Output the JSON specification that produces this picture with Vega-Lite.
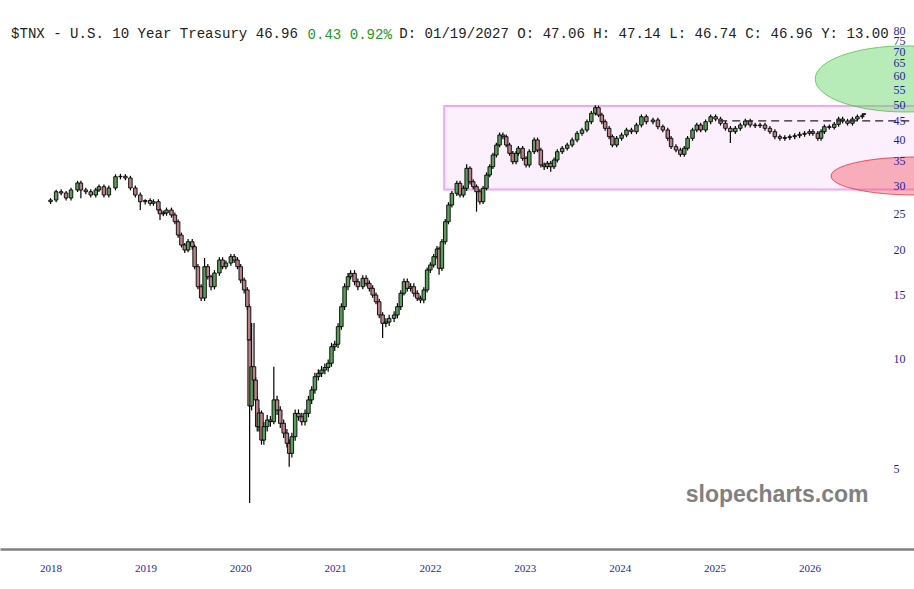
{
  "$schema": "https://vega.github.io/schema/vega-lite/v6.json",
  "width": 914,
  "height": 549,
  "autosize": {"type": "none"},
  "padding": {"top": 0, "left": 0, "right": 0, "bottom": 40},
  "background": "white",
  "title": {
    "text": "$TNX - U.S. 10 Year Treasury 46.96\u00a0\u00a0\u00a0\u00a0\u00a0\u00a0\u00a0\u00a0\u00a0\u00a0\u00a0\u00a0D: 01/19/2027 O: 47.06 H: 47.14 L: 46.74 C: 46.96 Y: 13.00",
    "anchor": "start",
    "frame": "group",
    "offset": -52,
    "dx": 11,
    "font": "Liberation Mono",
    "fontSize": 14.07,
    "fontWeight": "normal",
    "color": "#222222",
    "baseline": "alphabetic"
  },
  "datasets": {
    "bars": [
      {"t":2018.000,"o":27.00,"h":27.6,"l":26.6,"c":27.28},
      {"t":2018.059,"o":27.28,"h":29.1,"l":26.9,"c":28.75},
      {"t":2018.112,"o":28.75,"h":29.2,"l":28.1,"c":28.52},
      {"t":2018.164,"o":28.52,"h":28.9,"l":27.2,"c":27.63},
      {"t":2018.216,"o":27.63,"h":29.5,"l":27.2,"c":29.07},
      {"t":2018.285,"o":29.07,"h":30.8,"l":28.7,"c":30.38},
      {"t":2018.320,"o":30.38,"h":30.8,"l":27.6,"c":29.07},
      {"t":2018.372,"o":29.07,"h":29.5,"l":28.3,"c":28.75},
      {"t":2018.424,"o":28.75,"h":29.2,"l":27.7,"c":28.16},
      {"t":2018.477,"o":28.16,"h":29.5,"l":27.7,"c":29.07},
      {"t":2018.511,"o":29.07,"h":30.1,"l":28.7,"c":29.68},
      {"t":2018.563,"o":29.68,"h":30.1,"l":27.7,"c":28.16},
      {"t":2018.615,"o":28.16,"h":29.9,"l":27.7,"c":29.44},
      {"t":2018.685,"o":29.44,"h":32.1,"l":29.0,"c":31.62},
      {"t":2018.737,"o":31.62,"h":32.2,"l":31.1,"c":31.70},
      {"t":2018.789,"o":31.70,"h":32.1,"l":30.9,"c":31.36},
      {"t":2018.842,"o":31.36,"h":31.8,"l":29.0,"c":29.44},
      {"t":2018.894,"o":29.44,"h":29.9,"l":27.7,"c":28.16},
      {"t":2018.946,"o":28.16,"h":28.6,"l":25.6,"c":26.99},
      {"t":2018.998,"o":26.99,"h":27.4,"l":26.5,"c":27.20},
      {"t":2019.050,"o":27.20,"h":27.6,"l":26.3,"c":26.72},
      {"t":2019.085,"o":26.72,"h":27.4,"l":26.3,"c":26.99},
      {"t":2019.137,"o":26.99,"h":27.4,"l":25.2,"c":25.61},
      {"t":2019.154,"o":25.61,"h":25.9,"l":24.04,"c":25.00},
      {"t":2019.189,"o":25.00,"h":25.5,"l":24.6,"c":25.13},
      {"t":2019.223,"o":25.13,"h":26.0,"l":24.7,"c":25.61},
      {"t":2019.275,"o":25.61,"h":26.0,"l":24.4,"c":24.81},
      {"t":2019.311,"o":24.81,"h":25.2,"l":23.4,"c":23.78},
      {"t":2019.345,"o":23.78,"h":24.1,"l":21.5,"c":21.86},
      {"t":2019.380,"o":21.86,"h":22.2,"l":20.2,"c":20.52},
      {"t":2019.415,"o":20.52,"h":20.8,"l":19.5,"c":19.88},
      {"t":2019.450,"o":19.88,"h":21.3,"l":19.6,"c":20.95},
      {"t":2019.494,"o":20.95,"h":21.3,"l":19.9,"c":20.30},
      {"t":2019.519,"o":20.30,"h":20.6,"l":17.6,"c":17.89},
      {"t":2019.554,"o":17.89,"h":18.2,"l":15.5,"c":15.76},
      {"t":2019.588,"o":15.76,"h":16.0,"l":14.4,"c":14.67},
      {"t":2019.624,"o":14.67,"h":18.9,"l":14.4,"c":17.89},
      {"t":2019.658,"o":17.89,"h":18.2,"l":16.5,"c":16.79},
      {"t":2019.692,"o":16.79,"h":17.0,"l":15.4,"c":15.76},
      {"t":2019.728,"o":15.76,"h":17.5,"l":15.5,"c":17.19},
      {"t":2019.780,"o":17.19,"h":19.0,"l":16.9,"c":18.66},
      {"t":2019.814,"o":18.66,"h":19.0,"l":17.6,"c":17.89},
      {"t":2019.849,"o":17.89,"h":18.6,"l":17.6,"c":18.31},
      {"t":2019.901,"o":18.31,"h":19.4,"l":18.0,"c":19.06},
      {"t":2019.936,"o":19.06,"h":19.4,"l":18.3,"c":18.66},
      {"t":2019.971,"o":18.66,"h":19.0,"l":17.6,"c":17.89},
      {"t":2020.005,"o":17.89,"h":18.2,"l":16.1,"c":16.44},
      {"t":2020.041,"o":16.44,"h":16.7,"l":15.1,"c":15.44},
      {"t":2020.075,"o":15.44,"h":15.7,"l":13.6,"c":13.89},
      {"t":2020.093,"o":13.89,"h":14.1,"l":11.0,"c":11.25},
      {"t":2020.099,"o":11.25,"h":11.4,"l":4.01,"c":7.41},
      {"t":2020.120,"o":7.41,"h":12.53,"l":7.2,"c":9.50},
      {"t":2020.145,"o":9.50,"h":12.53,"l":7.84,"c":8.73},
      {"t":2020.162,"o":8.73,"h":8.9,"l":7.5,"c":7.70},
      {"t":2020.179,"o":7.70,"h":7.9,"l":6.3,"c":6.50},
      {"t":2020.197,"o":6.50,"h":7.3,"l":6.3,"c":7.09},
      {"t":2020.224,"o":7.09,"h":7.2,"l":5.8,"c":5.97},
      {"t":2020.249,"o":5.97,"h":6.7,"l":5.8,"c":6.50},
      {"t":2020.284,"o":6.50,"h":7.0,"l":6.3,"c":6.78},
      {"t":2020.318,"o":6.78,"h":6.95,"l":6.5,"c":6.71},
      {"t":2020.354,"o":6.71,"h":9.50,"l":6.6,"c":7.70},
      {"t":2020.388,"o":7.70,"h":7.9,"l":7.0,"c":7.22},
      {"t":2020.422,"o":7.22,"h":7.4,"l":6.45,"c":6.64},
      {"t":2020.458,"o":6.64,"h":6.8,"l":6.05,"c":6.24},
      {"t":2020.492,"o":6.24,"h":6.4,"l":5.7,"c":5.85},
      {"t":2020.516,"o":5.85,"h":6.0,"l":5.04,"c":5.49},
      {"t":2020.544,"o":5.49,"h":6.25,"l":5.35,"c":6.10},
      {"t":2020.579,"o":6.10,"h":7.25,"l":5.95,"c":7.07},
      {"t":2020.614,"o":7.07,"h":7.25,"l":6.75,"c":6.92},
      {"t":2020.649,"o":6.92,"h":7.1,"l":6.55,"c":6.71},
      {"t":2020.683,"o":6.71,"h":7.25,"l":6.55,"c":7.07},
      {"t":2020.719,"o":7.07,"h":7.9,"l":6.9,"c":7.70},
      {"t":2020.753,"o":7.70,"h":8.4,"l":7.5,"c":8.20},
      {"t":2020.787,"o":8.20,"h":9.15,"l":8.0,"c":8.92},
      {"t":2020.823,"o":8.92,"h":9.35,"l":8.7,"c":9.11},
      {"t":2020.857,"o":9.11,"h":9.55,"l":8.9,"c":9.30},
      {"t":2020.892,"o":9.30,"h":9.7,"l":9.05,"c":9.45},
      {"t":2020.927,"o":9.45,"h":9.95,"l":9.2,"c":9.71},
      {"t":2020.962,"o":9.71,"h":11.05,"l":9.5,"c":10.78},
      {"t":2020.996,"o":10.78,"h":11.2,"l":10.5,"c":10.95},
      {"t":2021.031,"o":10.95,"h":12.5,"l":10.7,"c":12.24},
      {"t":2021.066,"o":12.24,"h":14.2,"l":12.0,"c":13.89},
      {"t":2021.100,"o":13.89,"h":16.1,"l":13.6,"c":15.76},
      {"t":2021.136,"o":15.76,"h":17.2,"l":15.4,"c":16.79},
      {"t":2021.163,"o":16.79,"h":17.5,"l":16.5,"c":17.15},
      {"t":2021.205,"o":17.15,"h":17.5,"l":15.9,"c":16.27},
      {"t":2021.240,"o":16.27,"h":16.6,"l":15.4,"c":15.76},
      {"t":2021.292,"o":15.76,"h":16.95,"l":15.5,"c":16.62},
      {"t":2021.327,"o":16.62,"h":16.95,"l":15.8,"c":16.10},
      {"t":2021.361,"o":16.10,"h":16.4,"l":15.3,"c":15.60},
      {"t":2021.396,"o":15.60,"h":15.9,"l":14.7,"c":14.95},
      {"t":2021.431,"o":14.95,"h":15.2,"l":14.1,"c":14.33},
      {"t":2021.465,"o":14.33,"h":14.6,"l":12.9,"c":13.18},
      {"t":2021.501,"o":13.18,"h":13.4,"l":11.39,"c":12.50},
      {"t":2021.535,"o":12.50,"h":12.9,"l":12.2,"c":12.60},
      {"t":2021.570,"o":12.60,"h":13.2,"l":12.3,"c":12.90},
      {"t":2021.622,"o":12.90,"h":13.5,"l":12.6,"c":13.18},
      {"t":2021.657,"o":13.18,"h":14.2,"l":12.9,"c":13.89},
      {"t":2021.692,"o":13.89,"h":15.4,"l":13.6,"c":15.12},
      {"t":2021.726,"o":15.12,"h":16.6,"l":14.9,"c":16.27},
      {"t":2021.761,"o":16.27,"h":16.6,"l":15.3,"c":15.60},
      {"t":2021.796,"o":15.60,"h":16.1,"l":15.3,"c":15.76},
      {"t":2021.830,"o":15.76,"h":16.1,"l":14.8,"c":15.12},
      {"t":2021.866,"o":15.12,"h":15.4,"l":14.4,"c":14.65},
      {"t":2021.900,"o":14.65,"h":14.9,"l":14.2,"c":14.49},
      {"t":2021.935,"o":14.49,"h":15.7,"l":14.2,"c":15.44},
      {"t":2021.970,"o":15.44,"h":17.8,"l":15.2,"c":17.52},
      {"t":2022.004,"o":17.52,"h":18.4,"l":17.2,"c":18.08},
      {"t":2022.039,"o":18.08,"h":19.4,"l":17.8,"c":19.06},
      {"t":2022.074,"o":19.06,"h":20.4,"l":18.8,"c":20.01},
      {"t":2022.096,"o":20.01,"h":20.3,"l":17.0,"c":17.71},
      {"t":2022.126,"o":17.71,"h":21.3,"l":17.4,"c":20.95},
      {"t":2022.161,"o":20.95,"h":24.2,"l":20.6,"c":23.78},
      {"t":2022.195,"o":23.78,"h":26.9,"l":23.4,"c":26.43},
      {"t":2022.231,"o":26.43,"h":28.9,"l":26.0,"c":28.46},
      {"t":2022.283,"o":28.46,"h":30.8,"l":28.0,"c":30.32},
      {"t":2022.317,"o":30.32,"h":30.8,"l":27.7,"c":28.16},
      {"t":2022.352,"o":28.16,"h":29.9,"l":27.7,"c":29.38},
      {"t":2022.387,"o":29.38,"h":34.2,"l":28.9,"c":33.35},
      {"t":2022.422,"o":33.35,"h":33.8,"l":30.1,"c":30.63},
      {"t":2022.456,"o":30.63,"h":31.1,"l":29.2,"c":29.68},
      {"t":2022.491,"o":29.68,"h":30.1,"l":25.34,"c":28.75},
      {"t":2022.526,"o":28.75,"h":29.2,"l":26.5,"c":26.99},
      {"t":2022.560,"o":26.99,"h":29.8,"l":26.6,"c":29.38},
      {"t":2022.596,"o":29.38,"h":32.5,"l":29.0,"c":31.96},
      {"t":2022.630,"o":31.96,"h":34.2,"l":31.5,"c":33.68},
      {"t":2022.664,"o":33.68,"h":36.8,"l":33.2,"c":36.27},
      {"t":2022.700,"o":36.27,"h":39.2,"l":35.7,"c":38.64},
      {"t":2022.734,"o":38.64,"h":41.8,"l":38.1,"c":41.17},
      {"t":2022.769,"o":41.17,"h":41.8,"l":40.1,"c":40.73},
      {"t":2022.804,"o":40.73,"h":41.3,"l":38.1,"c":38.64},
      {"t":2022.839,"o":38.64,"h":39.2,"l":36.1,"c":36.67},
      {"t":2022.873,"o":36.67,"h":37.2,"l":34.2,"c":34.77},
      {"t":2022.908,"o":34.77,"h":37.2,"l":34.2,"c":36.67},
      {"t":2022.932,"o":36.67,"h":38.4,"l":36.1,"c":37.85},
      {"t":2022.977,"o":37.85,"h":38.4,"l":35.0,"c":35.52},
      {"t":2023.013,"o":35.52,"h":36.0,"l":33.5,"c":34.05},
      {"t":2023.047,"o":34.05,"h":37.6,"l":33.5,"c":37.04},
      {"t":2023.099,"o":37.04,"h":40.5,"l":36.5,"c":39.89},
      {"t":2023.134,"o":39.89,"h":40.5,"l":36.9,"c":37.44},
      {"t":2023.169,"o":37.44,"h":38.0,"l":33.5,"c":34.05},
      {"t":2023.204,"o":34.05,"h":34.6,"l":33.0,"c":33.68},
      {"t":2023.238,"o":33.68,"h":34.9,"l":33.2,"c":34.42},
      {"t":2023.273,"o":34.42,"h":34.9,"l":32.6,"c":33.68},
      {"t":2023.308,"o":33.68,"h":35.7,"l":33.2,"c":35.14},
      {"t":2023.342,"o":35.14,"h":37.6,"l":34.6,"c":37.04},
      {"t":2023.394,"o":37.04,"h":38.4,"l":36.5,"c":37.85},
      {"t":2023.447,"o":37.85,"h":39.2,"l":37.3,"c":38.64},
      {"t":2023.499,"o":38.64,"h":40.5,"l":38.1,"c":39.89},
      {"t":2023.551,"o":39.89,"h":42.2,"l":39.3,"c":41.61},
      {"t":2023.603,"o":41.61,"h":43.1,"l":41.0,"c":42.49},
      {"t":2023.655,"o":42.49,"h":45.4,"l":41.9,"c":44.78},
      {"t":2023.701,"o":44.78,"h":47.9,"l":44.1,"c":47.23},
      {"t":2023.743,"o":47.23,"h":49.7,"l":46.6,"c":48.93},
      {"t":2023.777,"o":48.93,"h":49.6,"l":46.1,"c":46.72},
      {"t":2023.812,"o":46.72,"h":47.4,"l":44.1,"c":44.78},
      {"t":2023.847,"o":44.78,"h":45.4,"l":42.3,"c":42.95},
      {"t":2023.889,"o":42.95,"h":43.6,"l":40.1,"c":40.73},
      {"t":2023.923,"o":40.73,"h":41.3,"l":38.1,"c":38.64},
      {"t":2023.968,"o":38.64,"h":40.9,"l":38.1,"c":40.32},
      {"t":2024.020,"o":40.32,"h":41.8,"l":39.7,"c":41.17},
      {"t":2024.072,"o":41.17,"h":43.1,"l":40.6,"c":42.49},
      {"t":2024.124,"o":42.49,"h":43.1,"l":41.4,"c":42.04},
      {"t":2024.177,"o":42.04,"h":44.5,"l":41.4,"c":43.86},
      {"t":2024.229,"o":43.86,"h":46.9,"l":43.2,"c":46.22},
      {"t":2024.281,"o":46.22,"h":46.9,"l":44.1,"c":44.78},
      {"t":2024.351,"o":44.78,"h":45.9,"l":44.1,"c":45.27},
      {"t":2024.403,"o":45.27,"h":45.9,"l":42.7,"c":43.39},
      {"t":2024.455,"o":43.39,"h":44.0,"l":41.9,"c":42.49},
      {"t":2024.507,"o":42.49,"h":43.1,"l":39.7,"c":40.32},
      {"t":2024.542,"o":40.32,"h":40.9,"l":37.7,"c":38.23},
      {"t":2024.594,"o":38.23,"h":38.8,"l":36.9,"c":37.44},
      {"t":2024.640,"o":37.44,"h":38.0,"l":35.9,"c":36.43},
      {"t":2024.681,"o":36.43,"h":38.4,"l":35.9,"c":37.85},
      {"t":2024.716,"o":37.85,"h":40.9,"l":37.3,"c":40.32},
      {"t":2024.768,"o":40.32,"h":43.1,"l":39.7,"c":42.49},
      {"t":2024.813,"o":42.49,"h":44.5,"l":41.9,"c":43.86},
      {"t":2024.854,"o":43.86,"h":44.5,"l":41.9,"c":42.49},
      {"t":2024.906,"o":42.49,"h":45.4,"l":41.9,"c":44.78},
      {"t":2024.959,"o":44.78,"h":46.9,"l":44.1,"c":46.22},
      {"t":2025.011,"o":46.22,"h":46.9,"l":44.9,"c":45.55},
      {"t":2025.063,"o":45.55,"h":46.2,"l":43.7,"c":44.33},
      {"t":2025.115,"o":44.33,"h":45.0,"l":42.3,"c":42.95},
      {"t":2025.167,"o":42.95,"h":43.6,"l":39.13,"c":42.04},
      {"t":2025.219,"o":42.04,"h":43.6,"l":41.4,"c":42.95},
      {"t":2025.272,"o":42.95,"h":44.5,"l":42.3,"c":43.86},
      {"t":2025.324,"o":43.86,"h":45.6,"l":43.2,"c":44.98},
      {"t":2025.376,"o":44.98,"h":45.6,"l":43.2,"c":43.86},
      {"t":2025.428,"o":43.86,"h":44.5,"l":43.0,"c":43.66},
      {"t":2025.480,"o":43.66,"h":44.5,"l":43.0,"c":43.86},
      {"t":2025.532,"o":43.86,"h":44.5,"l":42.3,"c":42.95},
      {"t":2025.584,"o":42.95,"h":43.6,"l":41.4,"c":42.04},
      {"t":2025.636,"o":42.04,"h":42.7,"l":40.1,"c":40.73},
      {"t":2025.689,"o":40.73,"h":41.3,"l":39.7,"c":40.32},
      {"t":2025.741,"o":40.32,"h":41.1,"l":39.7,"c":40.50},
      {"t":2025.793,"o":40.50,"h":41.3,"l":39.9,"c":40.73},
      {"t":2025.845,"o":40.73,"h":41.6,"l":40.1,"c":40.99},
      {"t":2025.897,"o":40.99,"h":42.0,"l":40.4,"c":41.35},
      {"t":2025.949,"o":41.35,"h":42.2,"l":40.7,"c":41.61},
      {"t":2026.001,"o":41.61,"h":42.7,"l":41.0,"c":42.04},
      {"t":2026.037,"o":42.04,"h":42.7,"l":41.0,"c":41.61},
      {"t":2026.089,"o":41.61,"h":42.2,"l":39.7,"c":40.32},
      {"t":2026.123,"o":40.32,"h":42.7,"l":39.7,"c":42.04},
      {"t":2026.158,"o":42.04,"h":44.0,"l":41.4,"c":43.39},
      {"t":2026.210,"o":43.39,"h":44.0,"l":42.6,"c":43.20},
      {"t":2026.262,"o":43.20,"h":44.7,"l":42.6,"c":44.05},
      {"t":2026.308,"o":44.05,"h":46.2,"l":43.4,"c":45.55},
      {"t":2026.350,"o":45.55,"h":46.2,"l":44.3,"c":44.98},
      {"t":2026.402,"o":44.98,"h":45.6,"l":43.7,"c":44.33},
      {"t":2026.454,"o":44.33,"h":46.2,"l":43.7,"c":45.55},
      {"t":2026.506,"o":45.55,"h":46.9,"l":44.9,"c":46.22},
      {"t":2026.558,"o":46.22,"h":47.2,"l":45.6,"c":46.52},
      {"t":2026.577,"o":47.06,"h":47.14,"l":46.74,"c":46.96}
    ],
    "box": [{"t1": 2022.150, "t2": 2027.2, "lo": 29.16, "hi": 49.46}],
    "level": [{"t1": 2025.049, "t2": 2027.2, "v": 45}],
    "zones": [
      {"zone": "target", "t": 2027.01, "v": 58.7},
      {"zone": "support", "t": 2027.114, "v": 31.76}
    ]
  },
  "layer": [
    {
      "data": {"name": "box"},
      "mark": {"type": "rect", "fill": "#fdf0fd", "stroke": "#f4a6f2", "strokeWidth": 2},
      "encoding": {
        "x": {
          "field": "t1", "type": "quantitative", "title": "slopecharts.com",
          "scale": {"domain": [2017.52, 2027.05], "nice": false, "zero": false},
          "axis": {
            "values": [2018, 2019, 2020, 2021, 2022, 2023, 2024, 2025, 2026],
            "format": "d",
            "grid": false,
            "ticks": false,
            "zindex": 1,
            "domainColor": "#808080",
            "domainWidth": 2.5,
            "labelFont": "Liberation Serif",
            "labelFontSize": 11,
            "labelColor": "#1f1f9c",
            "labelPadding": 13,
            "titleX": 868,
            "titleY": -48,
            "titleAlign": "right",
            "titleBaseline": "alphabetic",
            "titleFont": "Liberation Sans",
            "titleFontSize": 23,
            "titleFontWeight": "bold",
            "titleColor": "#808080"
          }
        },
        "x2": {"field": "t2"},
        "y": {
          "field": "lo", "type": "quantitative", "title": "0.43\u00a00.92%",
          "scale": {"type": "log", "domain": [2.997, 96.74], "nice": false, "zero": false},
          "axis": {
            "orient": "right",
            "offset": -23,
            "values": [5, 10, 15, 20, 25, 30, 35, 40, 45, 50, 55, 60, 65, 70, 75, 80],
            "domain": false,
            "ticks": false,
            "grid": false,
            "zindex": 1,
            "labelOverlap": false,
            "labelBound": false,
            "labelAlign": "left",
            "labelFont": "Liberation Serif",
            "labelFontSize": 12,
            "labelColor": "#1f1f9c",
            "labelPadding": 2,
            "titleX": -584,
            "titleY": 38,
            "titleAngle": 0,
            "titleAlign": "left",
            "titleBaseline": "alphabetic",
            "titleFont": "Liberation Mono",
            "titleFontSize": 14.07,
            "titleFontWeight": "normal",
            "titleColor": "#229922"
          }
        },
        "y2": {"field": "hi"}
      }
    },
    {
      "data": {"name": "bars"},
      "mark": {"type": "rule", "color": "#000000", "strokeWidth": 1.2},
      "encoding": {
        "x": {"field": "t", "type": "quantitative", "title": "slopecharts.com"},
        "y": {"field": "l", "type": "quantitative", "title": "0.43\u00a00.92%"},
        "y2": {"field": "h"}
      }
    },
    {
      "data": {"name": "bars"},
      "mark": {"type": "bar", "size": 3.5, "stroke": "#000000", "strokeWidth": 0.9},
      "encoding": {
        "x": {"field": "t", "type": "quantitative", "title": "slopecharts.com"},
        "y": {"field": "o", "type": "quantitative", "title": "0.43\u00a00.92%"},
        "y2": {"field": "c"},
        "color": {
          "condition": {"test": "datum.c >= datum.o", "value": "#5a9e5a"},
          "value": "#b98088"
        }
      }
    },
    {
      "data": {"name": "level"},
      "mark": {"type": "rule", "color": "#222222", "strokeWidth": 1.2, "strokeDash": [8, 5]},
      "encoding": {
        "x": {"field": "t1", "type": "quantitative", "title": "slopecharts.com"},
        "x2": {"field": "t2"},
        "y": {"field": "v", "type": "quantitative", "title": "0.43\u00a00.92%"}
      }
    },
    {
      "data": {"name": "zones"},
      "transform": [{"filter": "datum.zone == 'target'"}],
      "mark": {
        "type": "point",
        "filled": true,
        "shape": "M -1 0 C -1 -0.2026 -0.552 -0.367 0 -0.367 C 0.552 -0.367 1 -0.2026 1 0 C 1 0.2026 0.552 0.367 0 0.367 C -0.552 0.367 -1 0.2026 -1 0 Z",
        "size": 32400,
        "fill": "#5fd35f",
        "fillOpacity": 0.45,
        "stroke": "#4cc44c",
        "strokeWidth": 1,
        "strokeOpacity": 0.8
      },
      "encoding": {
        "x": {"field": "t", "type": "quantitative", "title": "slopecharts.com"},
        "y": {"field": "v", "type": "quantitative", "title": "0.43\u00a00.92%"}
      }
    },
    {
      "data": {"name": "zones"},
      "transform": [{"filter": "datum.zone == 'support'"}],
      "mark": {
        "type": "point",
        "filled": true,
        "shape": "M -1 0 C -1 -0.1248 -0.552 -0.226 0 -0.226 C 0.552 -0.226 1 -0.1248 1 0 C 1 0.1248 0.552 0.226 0 0.226 C -0.552 0.226 -1 0.1248 -1 0 Z",
        "size": 28224,
        "fill": "#f05060",
        "fillOpacity": 0.42,
        "stroke": "#e83040",
        "strokeWidth": 1,
        "strokeOpacity": 0.8
      },
      "encoding": {
        "x": {"field": "t", "type": "quantitative", "title": "slopecharts.com"},
        "y": {"field": "v", "type": "quantitative", "title": "0.43\u00a00.92%"}
      }
    }
  ],
  "config": {
    "view": {"stroke": null},
    "axis": {"grid": false}
  }
}
